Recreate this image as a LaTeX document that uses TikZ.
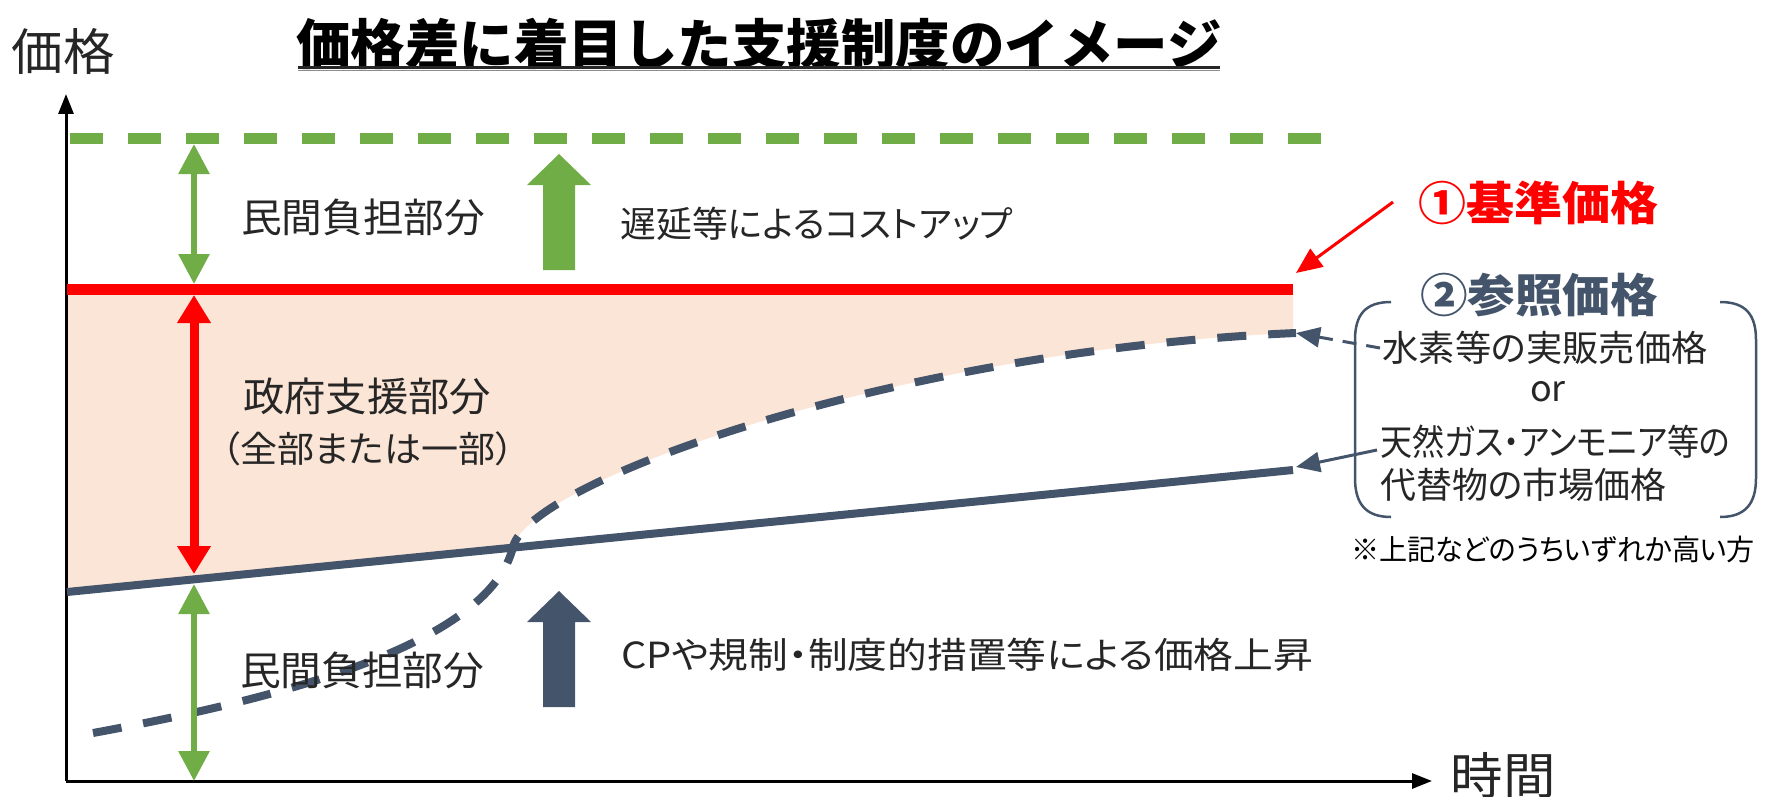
\documentclass[tikz,border=0pt]{standalone}
\usepackage{graphicx}
\usepackage{fontspec}
\setmainfont{Noto Sans CJK JP}[RawFeature={+palt}]
\newfontfamily\jpmono{Noto Sans CJK JP}
\usetikzlibrary{arrows.meta}
\definecolor{navy}{HTML}{44546A}
\definecolor{grn}{HTML}{70AD47}
\definecolor{peach}{HTML}{FBE5D6}
\definecolor{redc}{HTML}{FF0000}
\definecolor{txt}{HTML}{262626}
\newcommand\fitw[2]{\resizebox{#1}{\height}{#2}}
\tikzset{
  lbl/.style={inner sep=0pt, text=txt, font=\fontsize{40}{48}\selectfont},
  lblm/.style={inner sep=0pt, text=txt, font=\fontsize{36}{44}\selectfont},
  rlbl/.style={inner sep=0pt, text=txt, font=\fontsize{36}{44}\selectfont},
  axislbl/.style={inner sep=0pt, text=txt, font=\fontsize{50}{60}\selectfont},
  axisline/.style={line width=3pt, black, -{Triangle[width=15pt,length=20pt]}},
  grnarrow/.style={grn, line width=6pt, {Triangle[width=30pt,length=30pt]}-{Triangle[width=30pt,length=30pt]}},
  redarrow/.style={redc, line width=9pt, {Triangle[width=32pt,length=28pt]}-{Triangle[width=32pt,length=28pt]}},
}
\begin{document}
\begin{tikzpicture}[x=1pt,y=-1pt]
\useasboundingbox (0,0) rectangle (1766,797);
% fill region
\fill[peach] (67,289) -- (1293,289) -- (1293,333)
  .. controls (900,350) and (530,480) .. (513,547) -- (67,592) -- cycle;
% axes
\coordinate (O) at (66,781);
\coordinate (Ytip) at (66,94);
\coordinate (Xtip) at (1432,781);
\draw[axisline] (O) -- (Ytip);
\draw[axisline] (O) -- (Xtip);
\node[axislbl] (ylab) at (63,51) {\fitw{103pt}{価格}};
\node[axislbl] (xlab) at (1503,775) {\fitw{105pt}{時間}};
% title
\node[inner sep=0pt, font=\jpmono\bfseries\fontsize{54}{60}\selectfont] (title) at (759,44) {\fitw{925pt}{価格差に着目した支援制度のイメージ}};
\draw[line width=3pt, black!85] (298,67.5) -- (1220,67.5);
\draw[line width=1.5pt, black!45] (298,70.5) -- (1220,70.5);
% green dashed
\coordinate (gd1) at (70,138.5);
\coordinate (gd2) at (1322,138.5);
\draw[grn, line width=11pt, dash pattern=on 33pt off 25pt] (gd1) -- (gd2);
% red line
\coordinate (r1) at (67,289);
\coordinate (r2) at (1293,289);
\draw[redc, line width=11pt] (r1) -- (r2);
% solid navy line
\coordinate (s1) at (67,592);
\coordinate (s2) at (1293,470);
\draw[navy, line width=8pt] (s1) -- (s2);
% dashed curve
\coordinate (d1) at (93,733);
\coordinate (dx) at (513,547);
\coordinate (d2) at (1296,333);
\draw[navy, line width=8pt, dash pattern=on 29pt off 22pt]
  (d1) .. controls (300,695) and (490,640) .. (dx)
  .. controls (530,480) and (900,350) .. (d2);
% vertical arrows
\draw[grnarrow] (194,144) -- (194,284);
\draw[redarrow] (194,295) -- (194,574);
\draw[grnarrow] (194,584) -- (194,781);
% block arrows
\fill[grn] (543,270) -- (543,185) -- (527,185) -- (559,154) -- (591,185) -- (575,185) -- (575,270) -- cycle;
\fill[navy] (543,707) -- (543,622) -- (527,622) -- (559,591) -- (591,622) -- (575,622) -- (575,707) -- cycle;
% labels
\node[lbl] (p1) at (363,217) {\fitw{244pt}{民間負担部分}};
\node[lbl] (gov) at (367,396) {\fitw{248pt}{政府支援部分}};
\node[lblm] (gov2) at (368,449) {\fitw{292pt}{（全部または一部）}};
\node[lbl] (p2) at (362,670) {\fitw{244pt}{民間負担部分}};
\node[lblm] (delay) at (817,224) {\fitw{392pt}{遅延等によるコストアップ}};
\node[lblm] (cp) at (967,655) {\fitw{692pt}{CPや規制・制度的措置等による価格上昇}};
% right panel
\node[inner sep=0pt, text=redc, font=\bfseries\fontsize{46}{52}\selectfont] (kijun) at (1538,203) {\fitw{240pt}{①基準価格}};
\coordinate (ka) at (1393,202);
\coordinate (kb) at (1296,273);
\draw[redc, line width=3pt, -{Triangle[width=22pt,length=26pt]}] (ka) -- (kb);
\node[inner sep=0pt, text=navy, font=\bfseries\fontsize{46}{52}\selectfont] (sansho) at (1539,295) {\fitw{238pt}{②参照価格}};
\draw[navy, line width=2.5pt] (1391,302) .. controls (1365,302) and (1355,315) .. (1355,340) -- (1355,478)
  .. controls (1355,503) and (1365,517) .. (1391,517);
\draw[navy, line width=2.5pt] (1720,302) .. controls (1746,302) and (1756,315) .. (1756,340) -- (1756,478)
  .. controls (1756,503) and (1746,517) .. (1720,517);
\node[rlbl] (h2) at (1545,348) {\fitw{325pt}{水素等の実販売価格}};
\node[rlbl] (or) at (1548,392) {or};
\node[rlbl, anchor=west] (ng) at (1380,442) {\fitw{350pt}{天然ガス・アンモニア等の}};
\node[rlbl, anchor=west] (alt) at (1380,485) {\fitw{286pt}{代替物の市場価格}};
\node[inner sep=0pt, text=black, font=\fontsize{29}{34}\selectfont] (note) at (1553,549) {\fitw{404pt}{※上記などのうちいずれか高い方}};
\coordinate (da) at (1380,348);
\coordinate (sa) at (1377,450);
\draw[navy, line width=3pt, dash pattern=on 14pt off 10pt, -{Triangle[width=20pt,length=24pt]}] (da) -- (d2);
\draw[navy, line width=3pt, -{Triangle[width=20pt,length=24pt]}] (sa) -- (1296,467);
\end{tikzpicture}
\end{document}
